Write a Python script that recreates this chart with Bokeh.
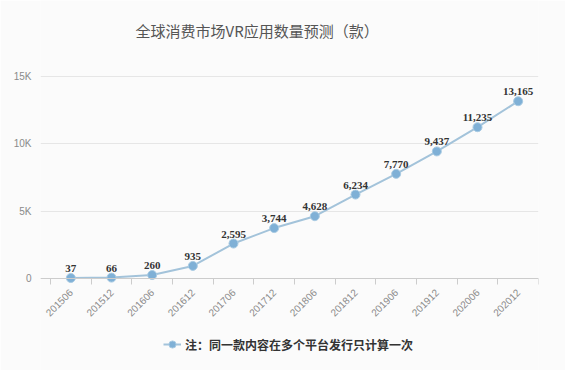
import math
from bokeh.plotting import figure
from bokeh.models import (ColumnDataSource, FixedTicker, Range1d, Legend, LegendItem, Label, LabelSet)
from bokeh.embed import file_html
from bokeh.resources import INLINE

periods = ["201506", "201512", "201606", "201612", "201706", "201712",
           "201806", "201812", "201906", "201912", "202006", "202012"]
counts = [37, 66, 260, 935, 2595, 3744, 4628, 6234, 7770, 9437, 11235, 13165]
y_ticks = [0, 5000, 10000, 15000]
y_tick_labels = ["0", "5K", "10K", "15K"]
title_text = "全球消费市场VR应用数量预测（款）"
legend_text = "注：同一款内容在多个平台发行只计算一次"

# layout (pixels): data area from y=76 (15K) to y=278 (0); canvas 370 tall
CANVAS_H = 370
TOP_PX, ZERO_PX = 76, 278
ppu = (ZERO_PX - TOP_PX) / 15000.0
y_lo = -(CANVAS_H - ZERO_PX) / ppu
y_hi = 15000 + TOP_PX / ppu

# horizontal: categories span x=50..538; frame starts a little further left
FRAME_LEFT = 40
CAT_PX = 488 / len(periods)
x_lo = -(50 - FRAME_LEFT) / CAT_PX

xs = [i + 0.5 for i in range(len(periods))]
src = ColumnDataSource(dict(x=xs, y=counts, lbl=[f"{c:,}" for c in counts]))

BG = "#fbfbfb"
p = figure(frame_width=488 + (50 - FRAME_LEFT), frame_height=CANVAS_H, output_backend="svg",
           toolbar_location=None, title=None,
           x_range=Range1d(x_lo, len(periods)), y_range=Range1d(y_lo, y_hi),
           min_border_left=FRAME_LEFT, min_border_right=27, min_border_top=0, min_border_bottom=0,
           background_fill_color=BG, border_fill_color=BG, outline_line_color=None)

p.xgrid.grid_line_color = None
p.ygrid.grid_line_color = "#e6e6e6"
p.ygrid.ticker = FixedTicker(ticks=y_ticks)

p.yaxis.ticker = FixedTicker(ticks=y_ticks)
p.yaxis.major_label_overrides = {v: s for v, s in zip(y_ticks, y_tick_labels)}
p.yaxis.axis_line_color = None
p.yaxis.major_tick_line_color = None
p.yaxis.minor_tick_line_color = None
p.yaxis.major_label_text_color = "#8a8a8a"
p.yaxis.major_label_text_font = "Liberation Sans"
p.yaxis.major_label_text_font_size = "10px"
p.yaxis.major_label_standoff = 3

p.xaxis.fixed_location = 0
p.xaxis.ticker = FixedTicker(ticks=xs, minor_ticks=list(range(len(periods) + 1)))
p.xaxis.major_label_overrides = {x: s for x, s in zip(xs, periods)}
p.xaxis.major_label_orientation = math.pi / 4
p.xaxis.axis_line_color = "#cccccc"
p.xaxis.major_tick_line_color = None
p.xaxis.minor_tick_line_color = "#cccccc"
p.xaxis.minor_tick_in = 0
p.xaxis.minor_tick_out = 6
p.xaxis.major_label_text_color = "#8a8a8a"
p.xaxis.major_label_text_font = "Liberation Sans"
p.xaxis.major_label_text_font_size = "10px"
p.xaxis.major_label_standoff = 6

ln = p.line("x", "y", source=src, line_color="#a3c3da", line_width=2)
ci = p.scatter("x", "y", source=src, size=9, fill_color="#7fb0d6", line_color="#a9cbe3", line_width=1)

labels = LabelSet(x="x", y="y", text="lbl", source=src, text_align="center",
                  text_baseline="bottom", y_offset=6, text_font="Liberation Serif",
                  text_font_style="bold", text_font_size="11px", text_color="#333333")
p.add_layout(labels)

title = Label(x=135 - FRAME_LEFT, y=CANVAS_H - 30, x_units="screen", y_units="screen", text=title_text,
              text_align="left", text_baseline="middle", text_font="Noto Sans CJK SC",
              text_font_size="15px", text_color="#555555")
p.add_layout(title)

legend = Legend(items=[LegendItem(label=legend_text, renderers=[ln, ci])],
                orientation="horizontal", location=(163 - FRAME_LEFT, CANVAS_H - 354),
                label_text_font="Noto Sans CJK SC", label_text_font_style="bold",
                label_text_font_size="12px", label_text_color="#333333",
                border_line_color=None, background_fill_alpha=0,
                glyph_width=18, label_standoff=4, margin=0, padding=2)
p.add_layout(legend)

open("out.html", "w").write(file_html(p, INLINE))
